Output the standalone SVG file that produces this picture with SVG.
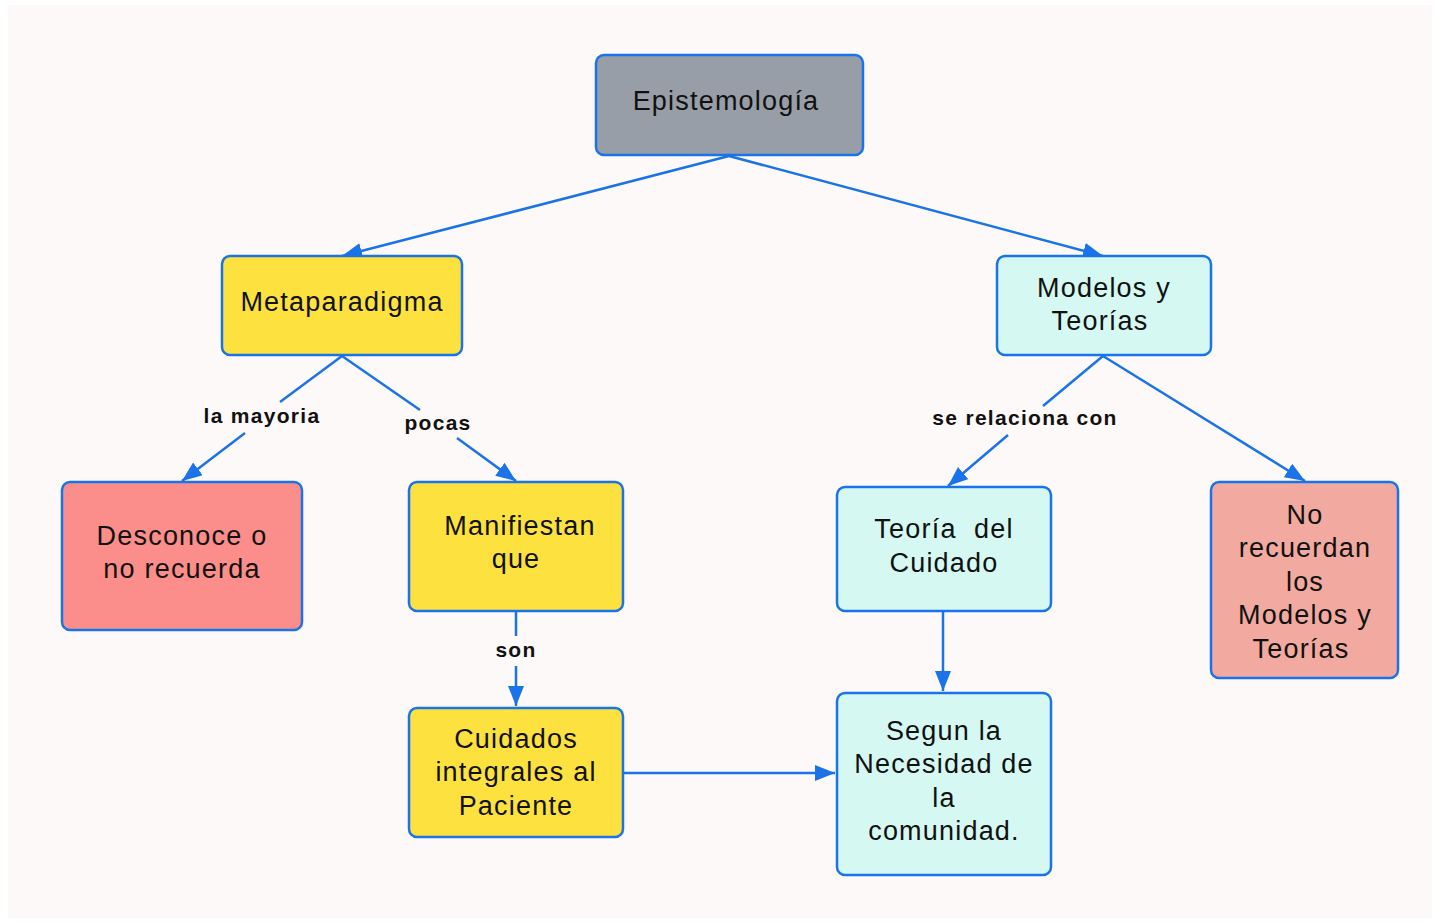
<svg xmlns="http://www.w3.org/2000/svg" width="1436" height="922" viewBox="0 0 1436 922">
<defs>
<marker id="ah" viewBox="0 0 20 16" refX="20" refY="8" markerWidth="20" markerHeight="16" markerUnits="userSpaceOnUse" orient="auto">
<path d="M0,0 L20,8 L0,16 Z" fill="#1a73e8"/>
</marker>
<style>
.n{stroke:#1a73e8;stroke-width:2.5}
.t{font-family:"Liberation Sans",Arial,sans-serif;font-size:27px;letter-spacing:1.2px;fill:#111;text-anchor:middle}
.l{font-family:"Liberation Sans",Arial,sans-serif;font-size:21px;letter-spacing:1.3px;font-weight:bold;fill:#111;text-anchor:middle}
.c{stroke:#1a73e8;stroke-width:2.5;fill:none}
</style>
</defs>
<rect width="1436" height="922" fill="#ffffff"/>
<rect x="8" y="5" width="1424" height="913" fill="#fdf9f8"/>
<g id="connectors">
<line class="c" x1="729" y1="156" x2="342" y2="256" marker-end="url(#ah)"/>
<line class="c" x1="729" y1="156" x2="1103" y2="256" marker-end="url(#ah)"/>
<line class="c" x1="342" y1="356" x2="280" y2="402"/>
<line class="c" x1="245" y1="433" x2="182" y2="481" marker-end="url(#ah)"/>
<line class="c" x1="342" y1="356" x2="420" y2="410"/>
<line class="c" x1="457" y1="438" x2="516" y2="481" marker-end="url(#ah)"/>
<line class="c" x1="1103" y1="356" x2="1043" y2="406"/>
<line class="c" x1="1008" y1="435" x2="948" y2="486" marker-end="url(#ah)"/>
<line class="c" x1="1103" y1="356" x2="1305" y2="481" marker-end="url(#ah)"/>
<line class="c" x1="516" y1="612" x2="516" y2="636"/>
<line class="c" x1="516" y1="666" x2="516" y2="706" marker-end="url(#ah)"/>
<line class="c" x1="943" y1="612" x2="943" y2="691" marker-end="url(#ah)"/>
<line class="c" x1="623" y1="773" x2="835" y2="773" marker-end="url(#ah)"/>
<text class="l" x="262" y="423">la mayoria</text>
<text class="l" x="438" y="430">pocas</text>
<text class="l" x="1025" y="425">se relaciona con</text>
<text class="l" x="516" y="657">son</text>
</g>
<g id="epistemologia">
<rect class="n" x="596" y="55" width="267" height="100" rx="8" fill="#989ea8"/>
<text class="t" x="726" y="110">Epistemología</text>
</g>
<g id="metaparadigma">
<rect class="n" x="222" y="256" width="240" height="99" rx="8" fill="#fde23f"/>
<text class="t" x="342" y="311">Metaparadigma</text>
</g>
<g id="modelos">
<rect class="n" x="997" y="256" width="214" height="99" rx="8" fill="#d5f8f2"/>
<text class="t" x="1104" y="297">Modelos y</text>
<text class="t" x="1100" y="330">Teorías</text>
</g>
<g id="desconoce">
<rect class="n" x="62" y="482" width="240" height="148" rx="8" fill="#fb8e8a"/>
<text class="t" x="182" y="545">Desconoce o</text>
<text class="t" x="182" y="578">no recuerda</text>
</g>
<g id="manifiestan">
<rect class="n" x="409" y="482" width="214" height="129" rx="8" fill="#fde23f"/>
<text class="t" x="520" y="535">Manifiestan</text>
<text class="t" x="516" y="568">que</text>
</g>
<g id="teoria">
<rect class="n" x="837" y="487" width="214" height="124" rx="8" fill="#d5f8f2"/>
<text class="t" x="944" y="538" xml:space="preserve">Teoría  del</text>
<text class="t" x="944" y="572">Cuidado</text>
</g>
<g id="norecuerdan">
<rect class="n" x="1211" y="482" width="187" height="196" rx="8" fill="#f2aaa0"/>
<text class="t" x="1305" y="524">No</text>
<text class="t" x="1305" y="557">recuerdan</text>
<text class="t" x="1305" y="591">los</text>
<text class="t" x="1305" y="624">Modelos y</text>
<text class="t" x="1301" y="658">Teorías</text>
</g>
<g id="cuidados">
<rect class="n" x="409" y="708" width="214" height="129" rx="8" fill="#fde23f"/>
<text class="t" x="516" y="748">Cuidados</text>
<text class="t" x="516" y="781">integrales al</text>
<text class="t" x="516" y="815">Paciente</text>
</g>
<g id="segun">
<rect class="n" x="837" y="693" width="214" height="182" rx="8" fill="#d5f8f2"/>
<text class="t" x="944" y="740">Segun la</text>
<text class="t" x="944" y="773">Necesidad de</text>
<text class="t" x="944" y="807">la</text>
<text class="t" x="944" y="840">comunidad.</text>
</g>
</svg>
